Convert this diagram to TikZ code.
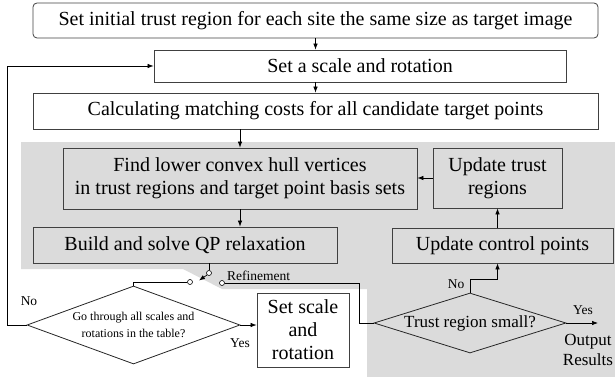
\documentclass[tikz,border=0pt]{standalone}
\usepackage{fontspec}
\setmainfont{Liberation Serif}
\usetikzlibrary{arrows.meta, shapes.geometric}

\begin{document}
\begin{tikzpicture}[x=1pt, y=-1pt,
    box/.style={draw=black!75, line width=0.8pt, inner sep=0pt, align=center, font=\fontsize{20}{23}\selectfont},
    test/.style={draw=black!85, line width=0.8pt, diamond, inner sep=0pt, align=center},
    flow/.style={-{Latex[length=6pt,width=4.5pt]}, line width=0.7pt},
    contact/.style={draw, fill=white, circle, inner sep=0pt, minimum size=5pt, line width=0.6pt},
    lbl/.style={font=\fontsize{13.5}{15}\selectfont}]
    \useasboundingbox (0,0) rectangle (615,377);
    % grey area of the refinement loop
    \fill[black!14] (21,142) -- (615,142) -- (615,377) -- (367,377) -- (367,289)
        -- (222,289) -- (183,269) -- (21,269) -- cycle;

    \node[box, rounded corners=4pt, minimum width=565pt, minimum height=35pt] (init) at (315.5,20.5)
        {Set initial trust region for each site the same size as target image};
    \node[box, minimum width=412pt, minimum height=32pt] (setsr) at (360,66) {Set a scale and rotation};
    \node[box, minimum width=565pt, minimum height=36pt] (calc) at (315.5,111)
        {Calculating matching costs for all candidate target points};
    \node[box, minimum width=354pt, minimum height=61pt] (hull) at (240,178.5)
        {Find lower convex hull vertices\\in trust regions and target point basis sets};
    \node[box, minimum width=129pt, minimum height=60pt] (updtr) at (497.5,178) {Update trust\\regions};
    \node[box, minimum width=304pt, minimum height=36pt] (qp) at (185,245) {Build and solve QP relaxation};
    \node[box, minimum width=221pt, minimum height=35pt] (updcp) at (502.5,245.5) {Update control points};
    \node[test, aspect=2.8, minimum width=213pt, minimum height=78pt, font=\fontsize{12}{17}\selectfont] (allsr) at (133.5,325)
        {Go through all scales and\\rotations in the table?};
    \node[box, minimum width=92pt, minimum height=74pt] (setsc) at (303,330) {Set scale\\and\\rotation};
    \node[test, aspect=3.2, minimum width=192pt, minimum height=60pt, font=\fontsize{17}{20}\selectfont] (small) at (470,323)
        {Trust region small?};

    % switch
    \node[contact] (pole) at (209,273) {};
    \node[contact] (cleft) at (190,282) {};
    \node[contact] (cright) at (222,283) {};
    \coordinate (tip) at (199,280.5);
    \coordinate (out) at (598,323);

    \draw[flow] (init.south) -- (init.south |- setsr.north);
    \draw[flow] (init.south |- setsr.south) -- (init.south |- calc.north);
    \draw[flow] (calc.south -| hull.north) -- (hull.north);
    \draw[flow] (hull.south) -- (hull.south |- qp.north);
    \draw[flow] (updtr.west) -- (updtr.west -| hull.east);
    \draw[flow] (updcp.north -| updtr.south) -- (updtr.south);
    \draw[flow] (small.north) -- ++(0,-13) -| (updtr.south |- updcp.south);
    \draw[line width=0.7pt] (qp.south -| pole) -- (pole);
    \draw[flow] (pole.south west) -- (tip);
    \draw[line width=0.7pt] (allsr.north) |- (cleft.west);
    \draw[line width=0.7pt] (cright.east) -- ++(134.5,0) |- (small.west);
    \draw[flow] (allsr.west) -- ++(-19,0) |- (setsr.west);
    \draw[flow] (allsr.east) -- (allsr.east -| setsc.west);
    \draw[flow] (small.east) -- (out);

    \node[lbl] (no1) at (29,301) {No};
    \node[lbl] (yes1) at (240,343) {Yes};
    \node[lbl] (no2) at (456,284) {No};
    \node[lbl] (yes2) at (583,310) {Yes};
    \node[font=\fontsize{17}{20}\selectfont, align=center] (res) at (588,350) {Output\\Results};
    \node[lbl, anchor=base west, inner sep=0pt] (refine) at (227,280.5) {Refinement};
\end{tikzpicture}
\end{document}
